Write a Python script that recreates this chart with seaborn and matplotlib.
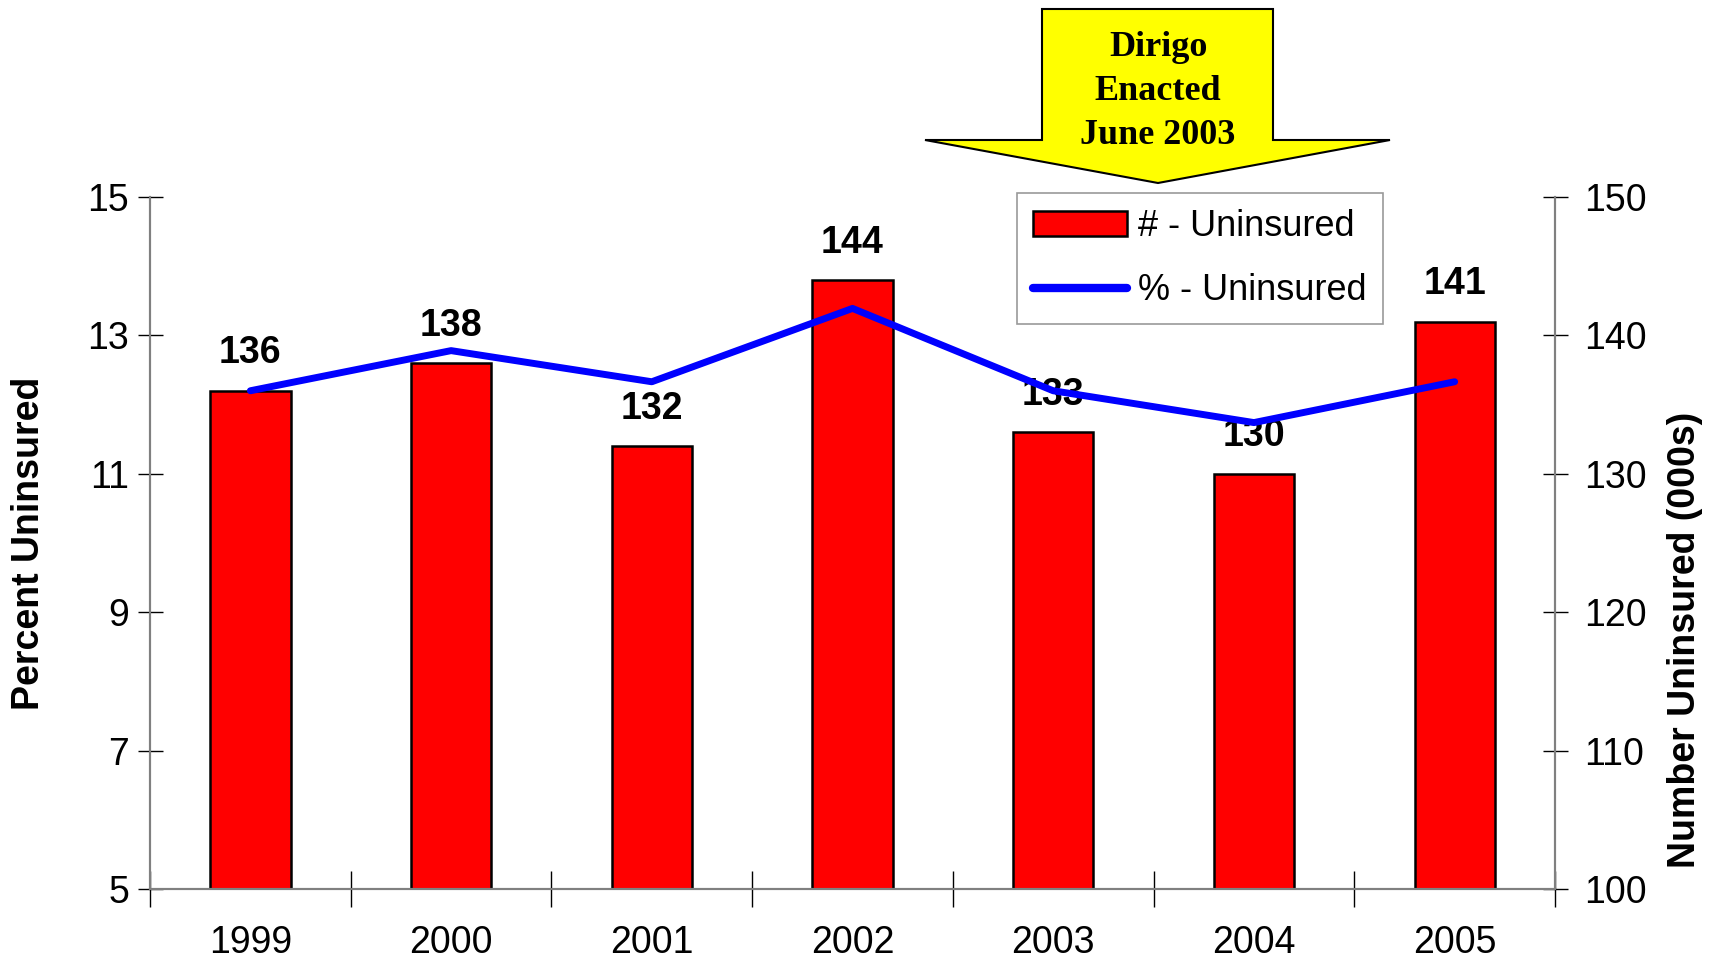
import seaborn as sns
import pandas as pd
import numpy as np
import matplotlib.pyplot as plt
from matplotlib.patches import Polygon, Patch
from matplotlib.lines import Line2D

years = ["1999", "2000", "2001", "2002", "2003", "2004", "2005"]
number_uninsured = [136, 138, 132, 144, 133, 130, 141]
percent_uninsured = [12.2, 12.78, 12.33, 13.39, 12.2, 11.74, 12.33]

df = pd.DataFrame({"year": years, "num": number_uninsured, "pct": percent_uninsured})

sns.set_theme(style="white")
plt.rcParams["font.family"] = ["Liberation Sans", "DejaVu Sans"]
plt.rcParams["text.color"] = "black"
plt.rcParams["axes.labelcolor"] = "black"
plt.rcParams["xtick.color"] = "black"
plt.rcParams["ytick.color"] = "black"

W, H = 1717, 960
fig = plt.figure(figsize=(W / 100, H / 100), dpi=100)
ax = fig.add_axes([150 / W, 1 - 889 / H, 1405 / W, 692 / H])
ax2 = ax.twinx()

# bars on the right axis, line on the left axis drawn on top
sns.barplot(data=df, x="year", y="num", color="#ff0000", edgecolor="black",
            linewidth=1.8, width=0.4, saturation=1, ax=ax2)
sns.lineplot(data=df, x="year", y="pct", color="#0000ff", linewidth=5,
             solid_capstyle="round", ax=ax)
ax.set_zorder(ax2.get_zorder() + 1)
ax.patch.set_visible(False)

ax2.set_ylim(100, 150)
ax2.set_yticks(range(100, 151, 10))
ax.set_ylim(5, 15)
ax.set_yticks(range(5, 16, 2))
ax.set_xlim(-0.5, 6.5)
ax2.set_xlim(-0.5, 6.5)

ax2.bar_label(ax2.containers[0], padding=14, fontsize=27, fontweight="bold",
              color="black")

gray = "#808080"
for a in (ax, ax2):
    for s in a.spines.values():
        s.set_color(gray)
        s.set_linewidth(1.5)
    a.spines["top"].set_visible(False)

ax.tick_params(axis="y", direction="inout", length=18, width=1, color="black",
               labelsize=27, pad=6, left=True)
ax2.tick_params(axis="y", direction="inout", length=18, width=1, color="black",
                labelsize=27, pad=12, right=True)
ax.set_xticks(range(len(years)))
ax.set_xticklabels(years)
ax.set_xticks(np.arange(-0.5, 7, 1), minor=True)
ax.tick_params(axis="x", which="major", length=0, labelsize=27, pad=26)
ax.tick_params(axis="x", which="minor", direction="inout", length=26, width=1,
               color="black", bottom=True)
ax2.tick_params(axis="x", bottom=False, labelbottom=False)

ax.set_xlabel("")
ax2.set_xlabel("")
ax.set_ylabel("Percent Uninsured", fontsize=27, fontweight="bold")
ax.yaxis.set_label_coords(-0.073, 0.5)
ax2.set_ylabel("Number Uninsured (000s)", fontsize=27, fontweight="bold",
               rotation=90)
ax2.yaxis.set_label_coords(1.08, 0.36)

# block arrow annotation
arrow_px = [(1042, 9), (1273, 9), (1273, 140), (1390, 140), (1158, 183),
            (925, 140), (1042, 140)]
arrow = Polygon([(x / W, 1 - y / H) for x, y in arrow_px], closed=True,
                facecolor="#ffff00", edgecolor="black", linewidth=1.5,
                transform=fig.transFigure)
fig.patches.append(arrow)
for txt, y in [("Dirigo", 48), ("Enacted", 92), ("June 2003", 136)]:
    fig.text(1158 / W, 1 - y / H, txt, ha="center", va="center", fontsize=26,
             fontweight="bold", family=["Liberation Serif", "DejaVu Serif"])

handles = [Patch(facecolor="#ff0000", edgecolor="black", linewidth=1.8),
           Line2D([0], [0], color="#0000ff", linewidth=6, solid_capstyle="round")]
leg = fig.legend(handles, ["# - Uninsured", "% - Uninsured"],
                 loc="upper left", bbox_to_anchor=(1017 / W, 1 - 193 / H),
                 fontsize=26, frameon=True, fancybox=False, borderaxespad=0,
                 handlelength=2.6, handletextpad=0.3, borderpad=0.45,
                 labelspacing=0.8)
leg.get_frame().set_edgecolor(gray)
leg.get_frame().set_linewidth(1.2)

fig.savefig("out.png", dpi=100)
